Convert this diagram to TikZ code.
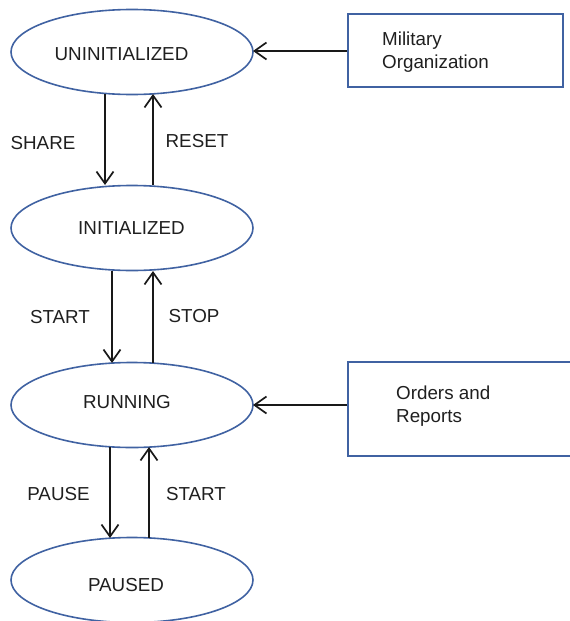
\documentclass[tikz,border=0pt]{standalone}
\usepackage{fontspec}
\setmainfont{Liberation Sans}
\usetikzlibrary{arrows.meta,shapes.geometric}
\definecolor{stateblue}{RGB}{64,98,162}
\tikzset{
  state/.style={draw=stateblue, line width=1.6pt, ellipse, minimum width=242pt, minimum height=85pt, inner sep=0pt},
  srcbox/.style={draw=stateblue, line width=1.6pt, rectangle, inner sep=0pt},
  txt/.style={font=\fontsize{18.8}{23}\selectfont, text=black!88, inner sep=0pt},
  boxtxt/.style={txt, align=left, anchor=west},
  flow/.style={draw=black!90, line width=1.7pt, -{Straight Barb[length=12pt,width=17pt,line width=1.7pt]}}
}
\begin{document}
\begin{tikzpicture}[x=1pt,y=-1pt]
\useasboundingbox (0,0) rectangle (570,621);
% states
\node[state] (uninit) at (132,52) {};
\node[state] (init) at (132,228) {};
\node[state] (run) at (132,405) {};
\node[state] (pause) at (132,580) {};
\node[txt] (tu) at (121.5,54) {UNINITIALIZED};
\node[txt] (ti) at (131.5,228) {INITIALIZED};
\node[txt] (tr) at (127,402) {RUNNING};
\node[txt] (tp) at (126,585) {PAUSED};
% side boxes
\node[srcbox, minimum width=215pt, minimum height=73pt] (mil) at (455.5,50.5) {};
\node[boxtxt] (milt) at (382,52) {Military\\Organization};
\node[srcbox, minimum width=232pt, minimum height=94pt] (ord) at (464,409) {};
\node[boxtxt] (ordt) at (396,406) {Orders and\\Reports};
% vertical transitions
\draw[flow] (105,94) coordinate (a1) -- (105,185) coordinate (a2);
\draw[flow] (153,185) coordinate (b1) -- (153,94) coordinate (b2);
\draw[flow] (112,271) coordinate (c1) -- (112,363) coordinate (c2);
\draw[flow] (153,363) coordinate (d1) -- (153,271) coordinate (d2);
\draw[flow] (110,447) coordinate (e1) -- (110,538) coordinate (e2);
\draw[flow] (149,538) coordinate (f1) -- (149,447) coordinate (f2);
% side arrows
\draw[flow] (mil.west |- 0,51) -- (253,51);
\draw[flow] (ord.west |- 0,405) -- (253,405);
% labels
\node[txt] (ls) at (43,143) {SHARE};
\node[txt] (lr) at (197,141) {RESET};
\node[txt] (lst) at (60,317) {START};
\node[txt] (lsp) at (194,316) {STOP};
\node[txt] (lpa) at (58.5,494) {PAUSE};
\node[txt] (lst2) at (196,494) {START};
\end{tikzpicture}
\end{document}
